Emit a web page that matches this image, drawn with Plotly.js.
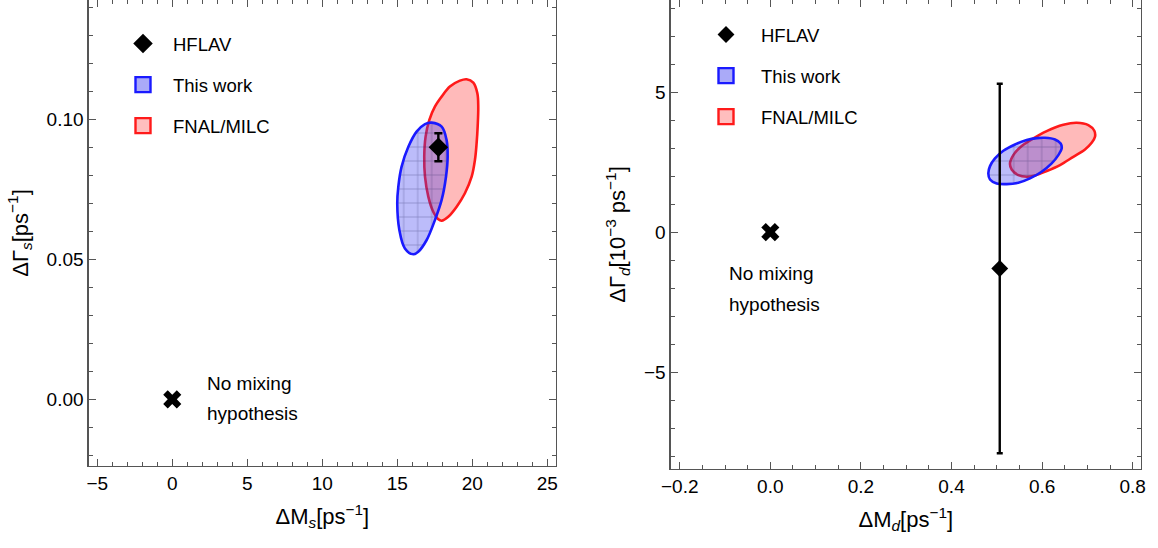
<!DOCTYPE html>
<html><head><meta charset="utf-8">
<script src="https://cdn.plot.ly/plotly-3.0.1.min.js"></script>
<style>html,body{margin:0;padding:0;background:#fff}#chart{width:1158px;height:548px}</style>
</head><body><div id="chart"></div>
<script>
// ---------- Left panel (B_s) ----------
const bsHflavX = [17.74];
const bsHflavY = [0.090];
const bsHflavErr = [0.005];
const bsNoMixX = [0];
const bsNoMixY = [0];
const bsThisWorkX = [17.29,17.96,18.29,18.36,18.25,17.96,17.51,16.96,16.40,16.07,15.51,15.14,15.00,15.07,15.29,15.74,16.29,16.85,17.29];
const bsThisWorkY = [0.0988,0.0974,0.0926,0.0867,0.0795,0.0712,0.0640,0.0569,0.0527,0.0518,0.0539,0.0605,0.0700,0.0759,0.0831,0.0902,0.0956,0.0983,0.0988];
const bsFnalX = [19.62,19.18,18.51,17.96,17.51,17.14,16.89,16.80,16.85,17.07,17.40,17.74,17.96,18.40,18.96,19.51,19.96,20.18,20.29,20.36,20.40,20.34,20.07,19.62];
const bsFnalY = [0.1143,0.1138,0.1117,0.1081,0.1045,0.0998,0.0938,0.0867,0.0795,0.0724,0.0670,0.0643,0.0638,0.0652,0.0688,0.0736,0.0795,0.0855,0.0914,0.0974,0.1045,0.1093,0.1131,0.1143];

// ---------- Right panel (B_d) ----------
const bdHflavX = [0.5065];
const bdHflavY = [-1.3];
const bdHflavErr = [6.6];
const bdNoMixX = [0];
const bdNoMixY = [0];
const bdThisWorkX = [0.6064,0.6285,0.6410,0.6432,0.6358,0.6211,0.5990,0.5733,0.5475,0.5218,0.4997,0.4850,0.4813,0.4850,0.4960,0.5144,0.5402,0.5659,0.5880,0.6064];
const bdThisWorkY = [3.369,3.310,3.167,2.988,2.750,2.452,2.155,1.917,1.762,1.714,1.738,1.881,2.095,2.357,2.631,2.905,3.131,3.286,3.357,3.369];
const bdFnalX = [0.6763,0.7021,0.7153,0.7168,0.7094,0.6947,0.6689,0.6395,0.6101,0.5843,0.5659,0.5475,0.5328,0.5291,0.5365,0.5512,0.5770,0.6101,0.6469,0.6763];
const bdFnalY = [3.905,3.821,3.619,3.405,3.190,2.952,2.690,2.393,2.179,2.024,1.976,2.036,2.238,2.452,2.750,3.024,3.310,3.607,3.833,3.905];

const legendNames = ['HFLAV', 'This work', 'FNAL/MILC'];
const noMixLines = ['No mixing', 'hypothesis'];

// ---------- Styles ----------
const FONT = 'Liberation Sans, Arial, sans-serif';
const blueLine = '#1a1aff', blueFill = 'rgba(60,60,240,0.34)';
const redLine = '#ff1a1a', redFill = 'rgba(255,40,40,0.32)';
const meshPattern = {shape:'+', size:14, solidity:0.07, fgcolor:'rgba(30,30,90,0.5)', bgcolor: blueFill};

function ellipse(x, y, lc, fc, xa, ya, pattern){
  const t = {x:x, y:y, xaxis:xa, yaxis:ya, type:'scatter', mode:'lines', fill:'toself',
    fillcolor:fc, line:{color:lc, width:2.6, shape:'spline', smoothing:1}, showlegend:false, hoverinfo:'skip'};
  if(pattern) t.fillpattern = pattern;
  return t;
}
function legendEntries(leg, xa, ya){
  return [
    {x:[null], y:[null], xaxis:xa, yaxis:ya, mode:'markers', name:legendNames[1], legend:leg, legendgroup:leg+'b', legendrank:2,
      marker:{symbol:'square', size:15, color:'rgba(170,170,248,1)', line:{color:blueLine, width:2.4}}},
    {x:[null], y:[null], xaxis:xa, yaxis:ya, mode:'markers', name:legendNames[2], legend:leg, legendgroup:leg+'c', legendrank:3,
      marker:{symbol:'square', size:15, color:'rgba(255,190,190,1)', line:{color:redLine, width:2.4}}}
  ];
}

const traces = [
  ellipse(bsFnalX, bsFnalY, redLine, redFill, 'x', 'y'),
  ellipse(bsThisWorkX, bsThisWorkY, blueLine, blueFill, 'x', 'y', meshPattern),
  {x:bsHflavX, y:bsHflavY, xaxis:'x', yaxis:'y', mode:'markers', name:legendNames[0], legend:'legend', legendgroup:'legenda', legendrank:1,
    marker:{symbol:'diamond', size:15, color:'#000'},
    error_y:{type:'data', array:bsHflavErr, color:'#000', thickness:2.4, width:4}},
  {x:bsNoMixX, y:bsNoMixY, xaxis:'x', yaxis:'y', mode:'markers', showlegend:false,
    marker:{symbol:'x', size:16, color:'#000'}},
  ...legendEntries('legend', 'x', 'y'),

  ellipse(bdFnalX, bdFnalY, redLine, redFill, 'x2', 'y2'),
  ellipse(bdThisWorkX, bdThisWorkY, blueLine, blueFill, 'x2', 'y2', meshPattern),
  {x:bdHflavX, y:bdHflavY, xaxis:'x2', yaxis:'y2', mode:'markers', name:legendNames[0], legend:'legend2', legendgroup:'legend2a', legendrank:1,
    marker:{symbol:'diamond', size:13, color:'#000'},
    error_y:{type:'data', array:bdHflavErr, color:'#000', thickness:2.4, width:3}},
  {x:bdNoMixX, y:bdNoMixY, xaxis:'x2', yaxis:'y2', mode:'markers', showlegend:false,
    marker:{symbol:'x', size:16, color:'#000'}},
  ...legendEntries('legend2', 'x2', 'y2')
];

const frame = {showline:true, linecolor:'#555', linewidth:1.3, mirror:'ticks', ticks:'inside', ticklen:7,
  tickcolor:'#555', tickwidth:1, showgrid:false, zeroline:false, tickfont:{family:FONT, size:19, color:'#000'}};
const titleFont = {family:FONT, size:22, color:'#000'};

const layout = {
  width:1158, height:548, margin:{l:0, r:0, t:0, b:0}, paper_bgcolor:'#fff', plot_bgcolor:'#fff',
  font:{family:FONT, color:'#000'},
  xaxis:Object.assign({}, frame, {domain:[0.0766, 0.4801], range:[-5.57, 25.58], dtick:5, tick0:0,
    minor:{ticks:'inside', ticklen:4, dtick:1, tickcolor:'#555'},
    title:{text:'ΔM<i><sub>s</sub></i>[ps<sup>−1</sup>]', font:titleFont, standoff:15}, anchor:'y'}),
  yaxis:Object.assign({}, frame, {domain:[1-466/548, 1], range:[-0.0238, 0.1426], dtick:0.05, tick0:0, tickformat:'.2f',
    minor:{ticks:'inside', ticklen:4, dtick:0.01, tickcolor:'#555'},
    title:{text:'ΔΓ<i><sub>s</sub></i>[ps<sup>−1</sup>]', font:titleFont, standoff:12}, anchor:'x'}),
  xaxis2:Object.assign({}, frame, {domain:[0.5792, 0.9853], range:[-0.2199, 0.8183], dtick:0.2, tick0:0, tickformat:'.1f',
    minor:{ticks:'inside', ticklen:4, dtick:0.05, tickcolor:'#555'},
    title:{text:'ΔM<i><sub>d</sub></i>[ps<sup>−1</sup>]', font:titleFont, standoff:15}, anchor:'y2'}),
  yaxis2:Object.assign({}, frame, {domain:[1-469/548, 1], range:[-8.46, 8.29], dtick:5, tick0:0,
    minor:{ticks:'inside', ticklen:4, dtick:1, tickcolor:'#555'},
    title:{text:'ΔΓ<i><sub>d</sub></i>[10<sup>−3</sup> ps<sup>−1</sup>]', font:titleFont, standoff:12}, anchor:'x2'}),
  legend:{x:113/1158, y:1-25/548, xanchor:'left', yanchor:'top', bgcolor:'rgba(0,0,0,0)', traceorder:'grouped',
    itemwidth:50, tracegroupgap:14, font:{family:FONT, size:18.5, color:'#000'}},
  legend2:{x:691/1158, y:1-16/548, xanchor:'left', yanchor:'top', bgcolor:'rgba(0,0,0,0)', traceorder:'grouped',
    itemwidth:60, tracegroupgap:14, font:{family:FONT, size:18.5, color:'#000'}},
  annotations:[
    {xref:'x', yref:'y', x:2.18, y:0.0058, text:noMixLines[0], showarrow:false, xanchor:'left', yanchor:'middle', font:{family:FONT, size:19}},
    {xref:'x', yref:'y', x:2.18, y:-0.0049, text:noMixLines[1], showarrow:false, xanchor:'left', yanchor:'middle', font:{family:FONT, size:19}},
    {xref:'x2', yref:'y2', x:-0.0956, y:-1.46, text:noMixLines[0], showarrow:false, xanchor:'left', yanchor:'middle', font:{family:FONT, size:19}},
    {xref:'x2', yref:'y2', x:-0.0956, y:-2.57, text:noMixLines[1], showarrow:false, xanchor:'left', yanchor:'middle', font:{family:FONT, size:19}}
  ]
};

Plotly.newPlot('chart', traces, layout, {staticPlot:true, displayModeBar:false});
</script></body></html>
